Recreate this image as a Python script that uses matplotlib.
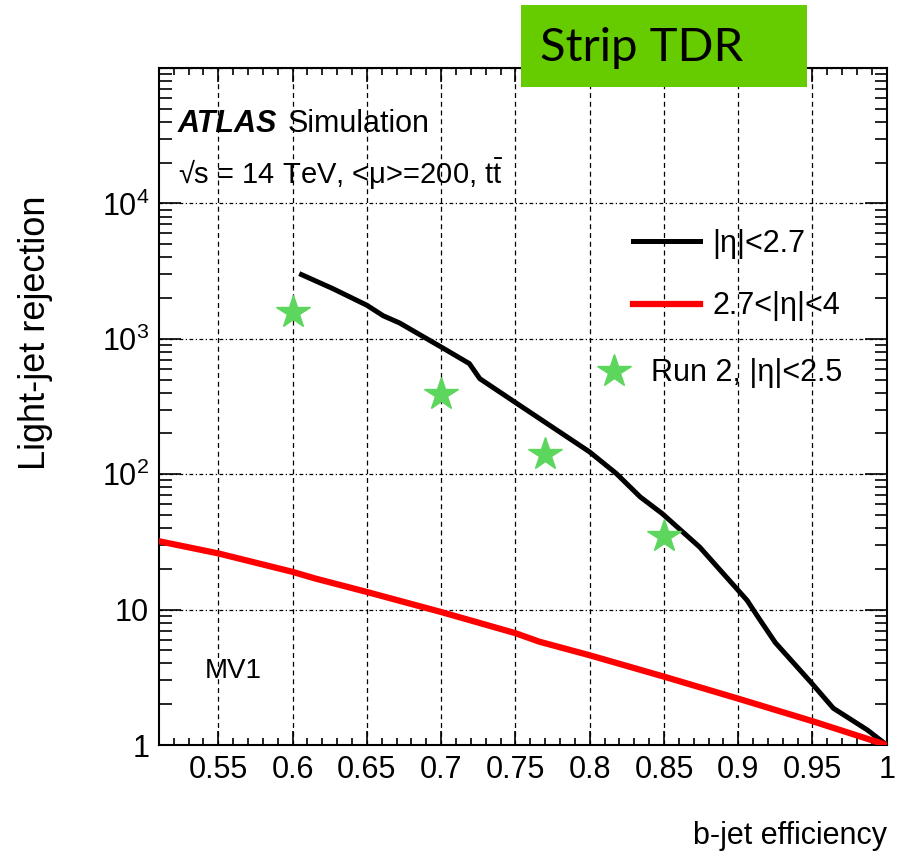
import matplotlib
matplotlib.use('Agg')
import matplotlib.pyplot as plt
from matplotlib.patches import Rectangle
from matplotlib.ticker import FixedLocator, FixedFormatter, LogLocator, MultipleLocator

# curves (b-jet efficiency vs light-jet rejection)
black_x = [0.606, 0.627, 0.650, 0.661, 0.672, 0.700, 0.719, 0.726, 0.751, 0.800,
           0.818, 0.834, 0.849, 0.874, 0.906, 0.914, 0.925, 0.949, 0.964, 0.987, 1.0]
black_y = [2980, 2350, 1770, 1480, 1310, 870, 656, 508, 333, 146,
           101, 68, 51, 29, 11.7, 8.6, 5.7, 2.9, 1.87, 1.29, 1.0]

red_x = [0.51, 0.55, 0.60, 0.615, 0.65, 0.70, 0.75, 0.766, 0.80, 0.85, 0.90, 0.95, 1.0]
red_y = [32, 26, 19, 17, 13.5, 9.6, 6.7, 5.8, 4.6, 3.2, 2.2, 1.5, 1.0]

run2_x = [0.60, 0.70, 0.77, 0.85]
run2_y = [1570, 390, 140, 35]

xticks = [0.55, 0.6, 0.65, 0.7, 0.75, 0.8, 0.85, 0.9, 0.95, 1.0]
xtick_labels = ['0.55', '0.6', '0.65', '0.7', '0.75', '0.8', '0.85', '0.9', '0.95', '1']
yticks = [1, 10, 100, 1000, 10000, 100000]
ytick_labels = ['1', '10', '$10^{2}$', '$10^{3}$', '$10^{4}$', '']

plt.rcParams['font.family'] = ['Liberation Sans', 'DejaVu Sans']
plt.rcParams['mathtext.fontset'] = 'custom'
plt.rcParams['mathtext.rm'] = 'Liberation Sans'
plt.rcParams['mathtext.it'] = 'Liberation Sans:italic'
plt.rcParams['mathtext.bf'] = 'Liberation Sans:bold'

fig = plt.figure(figsize=(9.03, 8.59), dpi=100)
ax = fig.add_axes([0.176, 0.1327, 0.806, 0.7881])

ax.plot(black_x, black_y, color='black', lw=3.6, label='|η|<2.7', zorder=3)
ax.plot(red_x, red_y, color='#ff0000', lw=4.5, label='2.7<|η|<4', zorder=3)
ax.plot(run2_x, run2_y, ls='none', marker='*', ms=25, color='#5cd65c',
        mec='#5cd65c', label='Run 2, |η|<2.5', zorder=4)

ax.set_yscale('log')
ax.set_xlim(0.51, 1.0)
ax.set_ylim(1, 1e5)

ax.xaxis.set_major_locator(FixedLocator(xticks))
ax.xaxis.set_major_formatter(FixedFormatter(xtick_labels))
ax.xaxis.set_minor_locator(MultipleLocator(0.01))
ax.yaxis.set_major_locator(FixedLocator(yticks))
ax.yaxis.set_major_formatter(FixedFormatter(ytick_labels))
ax.yaxis.set_minor_locator(LogLocator(base=10, subs=range(2, 10)))
ax.yaxis.set_minor_formatter(FixedFormatter([]))

ax.tick_params(which='both', direction='in', top=True, right=True, colors='black', labelsize=22)
ax.tick_params(axis='x', which='major', length=10, width=1.2, pad=7)
ax.tick_params(axis='x', which='minor', length=5, width=1.2)
ax.tick_params(axis='y', which='major', length=16, width=1.2, pad=7)
ax.tick_params(axis='y', which='minor', length=9, width=1.2)
for s in ax.spines.values():
    s.set_linewidth(1.5)

ax.xaxis.grid(True, which='major', color='black', lw=0.9, ls=(0, (4, 3)))
ax.yaxis.grid(True, which='major', color='black', lw=0.9, ls=(0, (3, 2, 1, 2)))

ax.set_xlabel('b-jet efficiency', fontsize=22, loc='right', labelpad=26)
ax.set_ylabel('Light-jet rejection', fontsize=26)
ax.yaxis.set_label_coords(-0.145, 0.609)

# text labels
ax.text(0.026, 0.917, 'ATLAS', transform=ax.transAxes, fontsize=22,
        fontweight='bold', fontstyle='italic', va='center', ha='left')
ax.text(0.177, 0.917, 'Simulation', transform=ax.transAxes, fontsize=22,
        va='center', ha='left')
ax.text(0.026, 0.843, r'√s = 14 TeV, <μ>=200, t$\bar{\mathrm{t}}$', transform=ax.transAxes,
        fontsize=21, va='center', ha='left')
ax.text(0.063, 0.11, 'MV1', transform=ax.transAxes, fontsize=20, va='center', ha='left')

h, l = ax.get_legend_handles_labels()
leg1 = ax.legend(h[:2], l[:2], loc='upper left', bbox_to_anchor=(0.651, 0.762),
                 frameon=False, fontsize=22, handlelength=2.2, handletextpad=0.4,
                 labelspacing=1.05, borderpad=0, borderaxespad=0)
ax.add_artist(leg1)
ax.legend(h[2:], l[2:], loc='center left', bbox_to_anchor=(0.6, 0.549),
          frameon=False, fontsize=22, handlelength=1.2, handletextpad=0.6,
          borderpad=0, borderaxespad=0)

# green "Strip TDR" tag
fig.patches.append(Rectangle((0.577, 0.8987), 0.3167, 0.0955, transform=fig.transFigure,
                             facecolor='#66cc00', edgecolor='none', zorder=10))
fig.text(0.598, 0.944, 'Strip TDR', fontsize=34, family='Lato', va='center', ha='left',
         color='black', zorder=11)

fig.savefig('out.png', dpi=100)
